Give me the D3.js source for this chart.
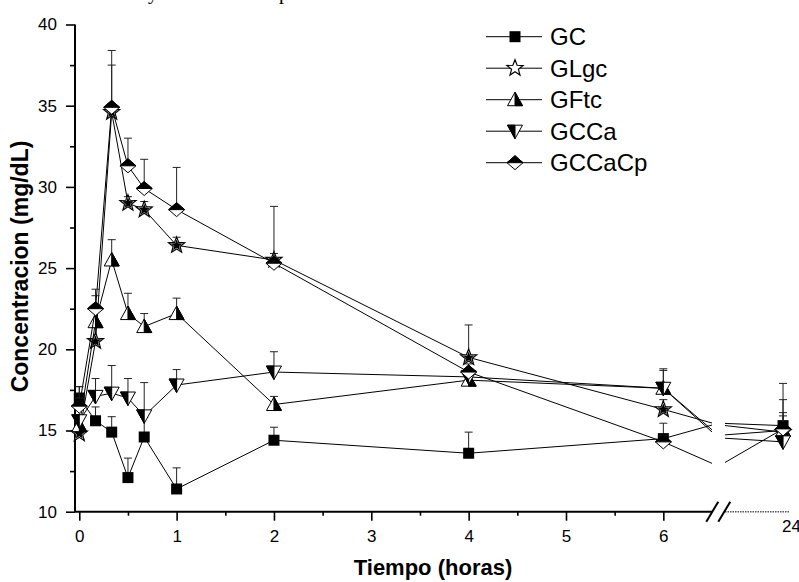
<!DOCTYPE html>
<html>
<head>
<meta charset="utf-8">
<script src="https://cdn.jsdelivr.net/npm/d3@7"></script>
<style>
  body { margin: 0; background: #fff; }
  svg { display: block; }
  text { font-family: "Liberation Sans", Arial, sans-serif; }
</style>
</head>
<body>
<svg id="chart" width="799" height="582"></svg>
<script>
// sampling times (hours)
const times = [0, 0.167, 0.333, 0.5, 0.667, 1, 2, 4, 6, 24];
// the lines meet a point hidden inside the axis break
const gapTime = 15;

const seriesNames = ['GC', 'GLgc', 'GFtc', 'GCCa', 'GCCaCp'];

const gcValues = [17.0, 15.6, 14.9, 12.1, 14.6, 11.4, 14.4, 13.6, 14.5, 15.3];
const gcErrors = [0.7, 0.85, 0.95, 1.2, 1.2, 1.3, 0.8, 1.3, 0.95, 2.6];
const glgcValues = [14.8, 20.5, 34.6, 29.0, 28.6, 26.4, 25.5, 19.5, 16.3, 14.9];
const glgcErrors = [0.5, 0.9, 2.9, 0.4, 0.5, 0.5, 0.4, 2.0, 0.6, 2.0];
const gftcValues = [15.3, 21.7, 25.5, 22.2, 21.4, 22.2, 16.6, 18.1, 17.6, 15.0];
const gftcErrors = [0.6, 1.6, 1.25, 1.25, 0.8, 0.95, 0.5, 0.4, 1.1, 1.1];
const gccaValues = [15.6, 17.1, 17.3, 17.0, 15.9, 17.8, 18.6, 18.3, 17.6, 14.3];
const gccaErrors = [1.4, 1.1, 1.7, 1.2, 2.05, 0.95, 1.25, 0.3, 1.2, 0.6];
const gccacpValues = [16.5, 22.5, 34.9, 31.3, 29.9, 28.6, 25.3, 18.6, 14.3, 15.1];
const gccacpErrors = [1.2, 1.2, 3.5, 1.7, 1.8, 2.6, 3.5, 0.5, 0.4, 0.8];
// value of each line where it disappears into the break
const gapValues = [15.45, 15.35, 14.7, 14.55, 12.8];

const xTicks = [0, 1, 2, 3, 4, 5, 6];
const xMinorTicks = [0.5, 1.5, 2.5, 3.5, 4.5, 5.5];
const yTicks = [10, 15, 20, 25, 30, 35, 40];
const yMinorTicks = [12.5, 17.5, 22.5, 27.5, 32.5, 37.5];

const svg = d3.select('#chart');

// broken x axis: 0..6.5 then a gap, then 23.5..24
const x = d3.scaleLinear()
  .domain([-0.044, 6.5, 23.5, 24.06])
  .range([75, 712, 725, 790]);
const y = d3.scaleLinear().domain([10, 40]).range([511.7, 24.5]);

const allValues = [gcValues, glgcValues, gftcValues, gccaValues, gccacpValues];
const allErrors = [gcErrors, glgcErrors, gftcErrors, gccaErrors, gccacpErrors];

const series = seriesNames.map((name, s) => {
  const pts = times.map((t, i) => ({ t: t, v: allValues[s][i], e: allErrors[s][i] }));
  return { name: name, points: pts, gap: gapValues[s] };
});

// fragments of the text above the figure
svg.append('text').attr('x', 148).attr('y', -1).style('font-family', '"Liberation Serif", serif')
  .attr('font-size', 20).text('y');
svg.append('text').attr('x', 279).attr('y', -1).style('font-family', '"Liberation Serif", serif')
  .attr('font-size', 20).text('p');

// clip the lines out of the break
const clip = svg.append('defs').append('clipPath').attr('id', 'gapclip');
clip.append('rect').attr('x', 0).attr('y', 0).attr('width', x(6.5)).attr('height', 582);
clip.append('rect').attr('x', x(23.5)).attr('y', 0).attr('width', 799 - x(23.5)).attr('height', 582);

// axes
svg.append('g')
  .attr('transform', 'translate(' + x.range()[0] + ',0)')
  .call(d3.axisLeft(y).tickValues(yTicks).tickSize(9).tickPadding(9).tickSizeOuter(0))
  .call(g => g.select('.domain').remove());
svg.append('g')
  .attr('transform', 'translate(' + x.range()[0] + ',0)')
  .call(d3.axisLeft(y).tickValues(yMinorTicks).tickSize(5).tickFormat('').tickSizeOuter(0))
  .call(g => g.select('.domain').remove());

svg.append('g')
  .attr('transform', 'translate(0,' + y(10) + ')')
  .call(d3.axisBottom(x).tickValues(xTicks).tickSize(9).tickPadding(9).tickSizeOuter(0))
  .call(g => g.select('.domain').remove());
svg.append('g')
  .attr('transform', 'translate(0,' + y(10) + ')')
  .call(d3.axisBottom(x).tickValues(xMinorTicks).tickSize(4).tickFormat('').tickSizeOuter(0))
  .call(g => g.select('.domain').remove());

svg.selectAll('.tick line').attr('stroke', '#000').attr('stroke-width', 1.6);
svg.selectAll('.tick text').attr('font-size', 17).attr('fill', '#000')
  .style('font-family', '"Liberation Sans", Arial, sans-serif');

// axis lines
svg.append('line')
  .attr('x1', x.range()[0]).attr('x2', x.range()[0])
  .attr('y1', y(40)).attr('y2', y(10))
  .attr('stroke', '#000').attr('stroke-width', 2);
svg.append('line')
  .attr('x1', x.range()[0]).attr('x2', x(6.5))
  .attr('y1', y(10)).attr('y2', y(10))
  .attr('stroke', '#000').attr('stroke-width', 2);
svg.append('line')
  .attr('x1', x(23.5)).attr('x2', x(24.06))
  .attr('y1', y(10)).attr('y2', y(10))
  .attr('stroke', '#555').attr('stroke-width', 1.5).attr('stroke-dasharray', '1.5,1');

// break marks
[x(6.5) + 0.3, x(23.5) - 0.7].forEach(cx => {
  svg.append('line')
    .attr('x1', cx - 6).attr('y1', y(10) + 10)
    .attr('x2', cx + 6).attr('y2', y(10) - 10)
    .attr('stroke', '#000').attr('stroke-width', 2);
});

// label for the 24 h point, sits a bit higher than the others
svg.append('text')
  .attr('x', x(24) - 1).attr('y', 532)
  .attr('font-size', 17).attr('fill', '#000')
  .text('24');

// titles
svg.append('text')
  .attr('x', 433).attr('y', 575)
  .attr('text-anchor', 'middle')
  .attr('font-size', 22).attr('font-weight', 'bold')
  .text('Tiempo (horas)');
svg.append('text')
  .attr('transform', 'translate(27.5,266.5) rotate(-90)')
  .attr('text-anchor', 'middle')
  .attr('font-size', 23).attr('font-weight', 'bold')
  .text('Concentracion (mg/dL)');

// marker shapes
function drawMarker(g, name, legend) {
  if (name === 'GC') {
    g.append('rect').attr('x', -5.5).attr('y', -5.5).attr('width', 11).attr('height', 11)
      .attr('fill', '#000');
  } else if (name === 'GLgc') {
    const star = (r1, r2) => {
      let p = [];
      for (let k = 0; k < 10; k++) {
        const a = -Math.PI / 2 + k * Math.PI / 5;
        const r = k % 2 === 0 ? r1 : r2;
        p.push([r * Math.cos(a), r * Math.sin(a)]);
      }
      return 'M' + p.join('L') + 'Z';
    };
    g.append('path').attr('d', star(8.5, 3.6)).attr('fill', '#fff').attr('stroke', '#000').attr('stroke-width', 1.2);
    if (!legend) g.append('path').attr('d', star(6, 2.5)).attr('fill', '#000');
  } else if (name === 'GFtc') {
    g.append('path').attr('d', 'M0,-7.5L7.5,6L-7.5,6Z').attr('fill', '#fff').attr('stroke', '#000');
    g.append('path').attr('d', 'M0,-7.5L7.5,6L0,6Z').attr('fill', '#000').attr('stroke', '#000');
  } else if (name === 'GCCa') {
    g.append('path').attr('d', 'M-7.5,-6L7.5,-6L0,7.5Z').attr('fill', '#fff').attr('stroke', '#000');
    g.append('path').attr('d', 'M-7.5,-6L0,-6L0,7.5Z').attr('fill', '#000').attr('stroke', '#000');
  } else {
    g.append('path').attr('d', 'M0,-7L8,0L0,7L-8,0Z').attr('fill', '#fff').attr('stroke', '#000');
    g.append('path').attr('d', 'M-8,0L0,-7L8,0Z').attr('fill', '#000').attr('stroke', '#000');
  }
}

const line = d3.line().x(d => x(d.t)).y(d => y(d.v));

series.forEach(s => {
  const pts = s.points.slice(0, -1).concat([{ t: gapTime, v: s.gap }], s.points.slice(-1));
  svg.append('path')
    .datum(pts)
    .attr('clip-path', 'url(#gapclip)')
    .attr('fill', 'none')
    .attr('stroke', '#000')
    .attr('stroke-width', 1)
    .attr('d', line);

  const eb = svg.append('g').attr('stroke', '#222').attr('stroke-width', 1);
  s.points.forEach(d => {
    eb.append('line').attr('x1', x(d.t)).attr('x2', x(d.t))
      .attr('y1', y(d.v)).attr('y2', y(d.v + d.e));
    eb.append('line').attr('x1', x(d.t) - 4).attr('x2', x(d.t) + 4)
      .attr('y1', y(d.v + d.e)).attr('y2', y(d.v + d.e));
  });

  s.points.forEach(d => {
    const g = svg.append('g').attr('transform', 'translate(' + x(d.t) + ',' + y(d.v) + ')');
    drawMarker(g, s.name, false);
  });
});

// legend
const legend = svg.append('g');
seriesNames.forEach((name, i) => {
  const ly = 36.7 + i * 31.5;
  legend.append('line')
    .attr('x1', 486).attr('x2', 542).attr('y1', ly).attr('y2', ly)
    .attr('stroke', '#000').attr('stroke-width', 1);
  drawMarker(legend.append('g').attr('transform', 'translate(515,' + ly + ')'), name, true);
  legend.append('text')
    .attr('x', 550).attr('y', ly + 8.5)
    .attr('font-size', 24).attr('fill', '#000')
    .text(name);
});
</script>
</body>
</html>
